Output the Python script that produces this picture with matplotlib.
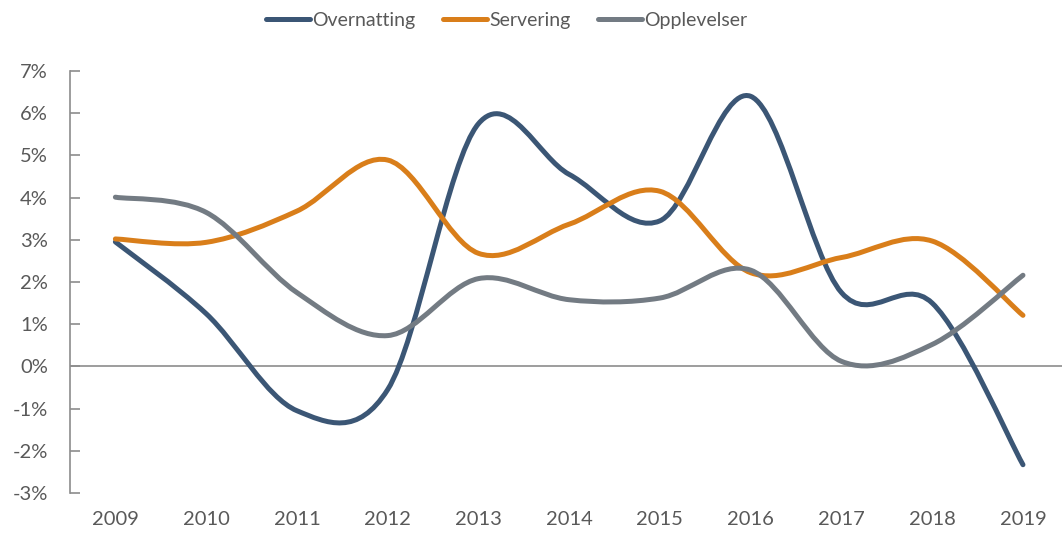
import numpy as np
import matplotlib
matplotlib.use("Agg")
import matplotlib.pyplot as plt
from matplotlib.path import Path
from matplotlib.patches import PathPatch
from matplotlib.lines import Line2D

plt.rcParams['font.family'] = ['Lato', 'DejaVu Sans']

years = ['2009', '2010', '2011', '2012', '2013', '2014', '2015', '2016', '2017', '2018', '2019']
overnatting = [2.95, 1.25, -1.05, -0.55, 5.75, 4.55, 3.45, 6.4, 1.75, 1.5, -2.33]
servering = [3.02, 2.94, 3.68, 4.89, 2.68, 3.37, 4.15, 2.22, 2.58, 2.97, 1.21]
opplevelser = [4.01, 3.65, 1.75, 0.73, 2.08, 1.58, 1.62, 2.28, 0.12, 0.52, 2.16]

series = [('Overnatting', overnatting, '#3b5675'),
          ('Servering', servering, '#d97e1a'),
          ('Opplevelser', opplevelser, '#737b83')]


def smooth_path(xs, ys):
    # Excel-like smoothed line: cubic bezier segments through the data points
    pts = np.column_stack([xs, ys]).astype(float)
    n = len(pts)
    verts = [pts[0]]
    codes = [Path.MOVETO]
    for i in range(n - 1):
        p0 = pts[i - 1] if i > 0 else pts[i]
        p1 = pts[i]
        p2 = pts[i + 1]
        p3 = pts[i + 2] if i + 2 < n else pts[i + 1]
        c1 = p1 + (p2 - p0) / 6.0
        c2 = p2 - (p3 - p1) / 6.0
        verts += [c1, c2, p2]
        codes += [Path.CURVE4] * 3
    return Path(verts, codes)


fig = plt.figure(figsize=(10.62, 5.34), dpi=100)
ax = fig.add_axes([70 / 1062, 1 - 493 / 534, 992 / 1062, 422 / 534])

x = np.arange(len(years))
for name, vals, col in series:
    patch = PathPatch(smooth_path(x, vals), facecolor='none', edgecolor=col,
                      lw=3.6, capstyle='round', joinstyle='round', zorder=3)
    ax.add_patch(patch)

ax.set_xlim(-0.5, 10.43)
ax.set_ylim(-3, 7)
ax.axhline(0, color='#8c8c8c', lw=1.2, zorder=2)

for s in ['top', 'right', 'bottom']:
    ax.spines[s].set_visible(False)
ax.spines['left'].set_color('#8c8c8c')
ax.spines['left'].set_linewidth(1.2)

ax.set_yticks(range(-3, 8))
ax.set_yticklabels([f'{v}%' for v in range(-3, 8)])
ax.tick_params(axis='y', direction='in', length=7, width=1.2, color='#8c8c8c',
               labelsize=14.5, labelcolor='#595959', pad=16)
ax.set_xticks(x)
ax.set_xticklabels(years)
ax.tick_params(axis='x', length=0, labelsize=14.5, labelcolor='#595959', pad=13)

handles = [Line2D([0], [0], color=c, lw=3.6, solid_capstyle='round') for _, _, c in series]
fig.legend(handles, [s[0] for s in series], loc='upper center', bbox_to_anchor=(0.477, 1.01),
           ncol=3, frameon=False, fontsize=14, labelcolor='#595959',
           handlelength=2.3, handletextpad=0.1, columnspacing=1.4)

fig.savefig('out.png', dpi=100)
